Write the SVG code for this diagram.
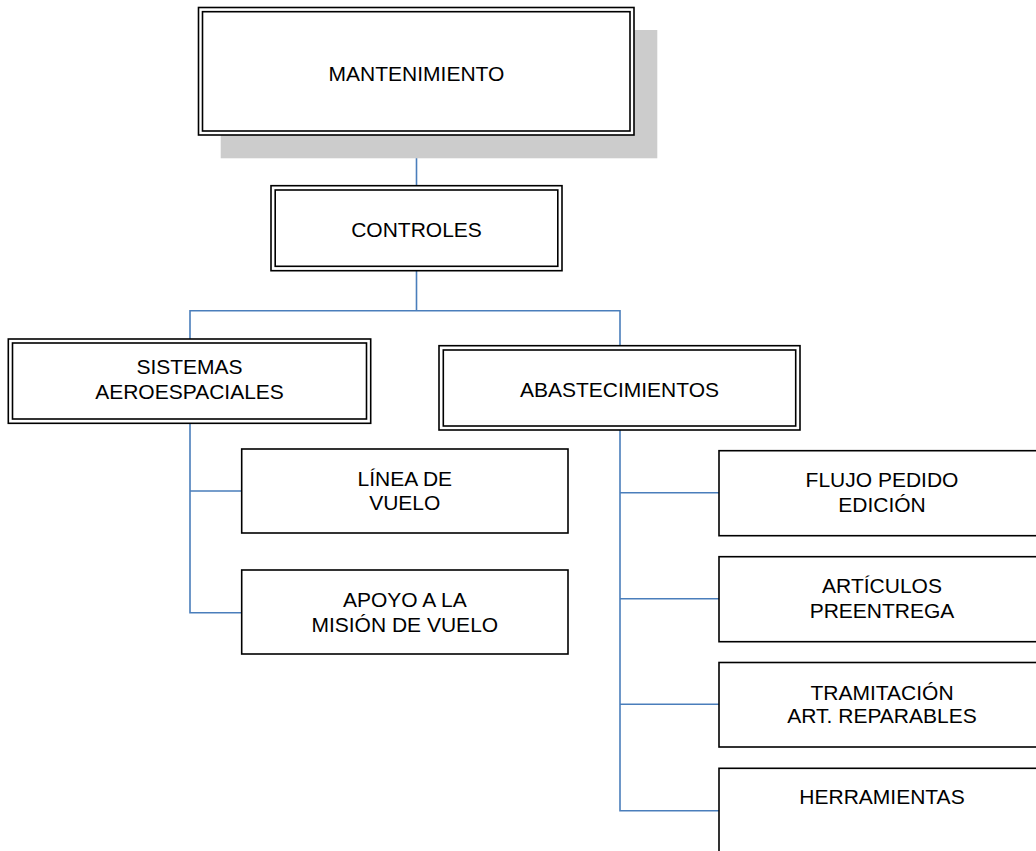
<svg xmlns="http://www.w3.org/2000/svg" width="1036" height="851" viewBox="0 0 1036 851">
<style>
.o{fill:#fff;stroke:#000;stroke-width:1.6}
.i{fill:none;stroke:#000;stroke-width:1.6}
.b{fill:#fff;stroke:#000;stroke-width:1.6}
.c{fill:none;stroke:#4a7ebb;stroke-width:1.6}
text{font-family:"Liberation Sans",Arial,sans-serif;font-size:21px;fill:#000;text-anchor:middle}
</style>
<rect width="1036" height="851" fill="#fff"/>
<g id="connectors">
<path class="c" d="M416.5,135V186"/>
<path class="c" d="M416.5,271V310.7M190,339V310.7H620V346"/>
<path class="c" d="M190,423V612.7H242M190,491H242"/>
<path class="c" d="M620,430V810.7H719M620,492.7H719M620,598.7H719M620,704.3H719"/>
</g>
<g id="mantenimiento">
<rect x="220.7" y="30" width="436.6" height="128.3" fill="#ccc"/>
<rect class="o" x="198.5" y="7.5" width="435.5" height="127.5"/>
<rect class="i" x="202.5" y="11.7" width="427.5" height="119.3"/>
<text x="416.5" y="81">MANTENIMIENTO</text>
</g>
<g id="controles">
<rect class="o" x="271" y="185.7" width="291" height="85"/>
<rect class="i" x="275.2" y="190" width="282.6" height="76.3"/>
<text x="416.5" y="236.7">CONTROLES</text>
</g>
<g id="sistemas">
<rect class="o" x="8.3" y="339" width="362.4" height="84.3"/>
<rect class="i" x="12.5" y="343" width="354" height="76"/>
<text x="189.5" y="374">SISTEMAS</text>
<text x="189.5" y="399.3">AEROESPACIALES</text>
</g>
<g id="abastecimientos">
<rect class="o" x="439" y="345.7" width="361" height="84.3"/>
<rect class="i" x="443.3" y="350" width="352.4" height="76"/>
<text x="619.5" y="396.7">ABASTECIMIENTOS</text>
</g>
<g id="linea">
<rect class="b" x="241.7" y="449" width="326.3" height="84"/>
<text x="404.8" y="485.7">LÍNEA DE</text>
<text x="404.8" y="510">VUELO</text>
</g>
<g id="apoyo">
<rect class="b" x="241.7" y="570" width="326.3" height="84"/>
<text x="404.8" y="606.7">APOYO A LA</text>
<text x="404.8" y="631.7">MISIÓN DE VUELO</text>
</g>
<g id="flujo">
<rect class="b" x="719" y="450.7" width="326" height="85"/>
<text x="882" y="486.7">FLUJO PEDIDO</text>
<text x="882" y="511.7">EDICIÓN</text>
</g>
<g id="articulos">
<rect class="b" x="719" y="556.7" width="326" height="85"/>
<text x="882" y="593.3">ARTÍCULOS</text>
<text x="882" y="618.3">PREENTREGA</text>
</g>
<g id="tramitacion">
<rect class="b" x="719" y="662.5" width="326" height="84.5"/>
<text x="882" y="700">TRAMITACIÓN</text>
<text x="882" y="723.3">ART. REPARABLES</text>
</g>
<g id="herramientas">
<rect class="b" x="719" y="768.3" width="326" height="100"/>
<text x="882" y="804.3">HERRAMIENTAS</text>
</g>
</svg>
